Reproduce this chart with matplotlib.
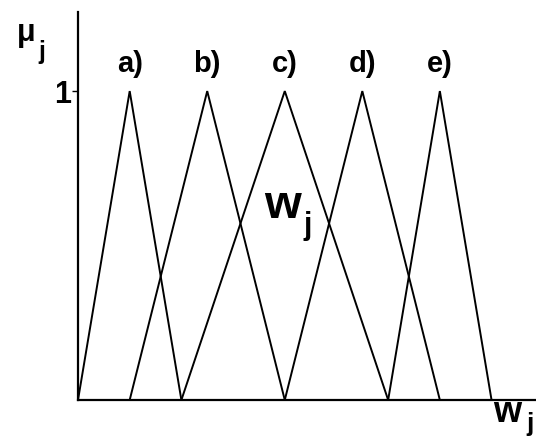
import matplotlib.pyplot as plt

# membership functions: (left foot, peak, right foot) on the w_j axis
labels = ["a)", "b)", "c)", "d)", "e)"]
left_feet = [0, 1, 2, 4, 6]
peaks = [1, 2.5, 4, 5.5, 7]
right_feet = [2, 4, 6, 7, 8]

W, H = 536, 438
fig = plt.figure(figsize=(W / 100, H / 100), dpi=100)
ax = fig.add_axes([78 / W, 38 / H, 458 / W, 388 / H])
ax.set_xlim(0, 8.86)
ax.set_ylim(0, 1.256)

for lab, a, b, c in zip(labels, left_feet, peaks, right_feet):
    ax.plot([a, b, c], [0, 1, 0], color="black", lw=1.4, solid_joinstyle="miter")
    ax.text(b, 1.088, lab, ha="center", va="center", fontsize=21,
            fontweight="bold", family="Liberation Sans")

for side in ["top", "right"]:
    ax.spines[side].set_visible(False)
for side in ["left", "bottom"]:
    ax.spines[side].set_linewidth(1.6)

ax.set_xticks([])
ax.set_yticks([1])
ax.set_yticklabels(["1"], fontsize=22, fontweight="bold", family="Liberation Sans")
ax.tick_params(axis="y", length=4, width=1, pad=1)

def px(x, y):
    return x / W, 1 - y / H

font = dict(fontweight="bold", family="Liberation Sans", color="black")
# y axis label mu_j
fig.text(*px(26, 33), "\u03bc", fontsize=22, ha="center", va="center", **font)
fig.text(*px(42, 52), "j", fontsize=18, ha="center", va="center", **font)
# centre w_j
fig.text(*px(283, 206), "w", fontsize=34, ha="center", va="center", **font)
fig.text(*px(308, 226), "j", fontsize=22, ha="center", va="center", **font)
# x axis label w_j
fig.text(*px(507, 412), "w", fontsize=26, ha="center", va="center", **font)
fig.text(*px(530, 424), "j", fontsize=19, ha="center", va="center", **font)

fig.savefig("out.png", dpi=100)
